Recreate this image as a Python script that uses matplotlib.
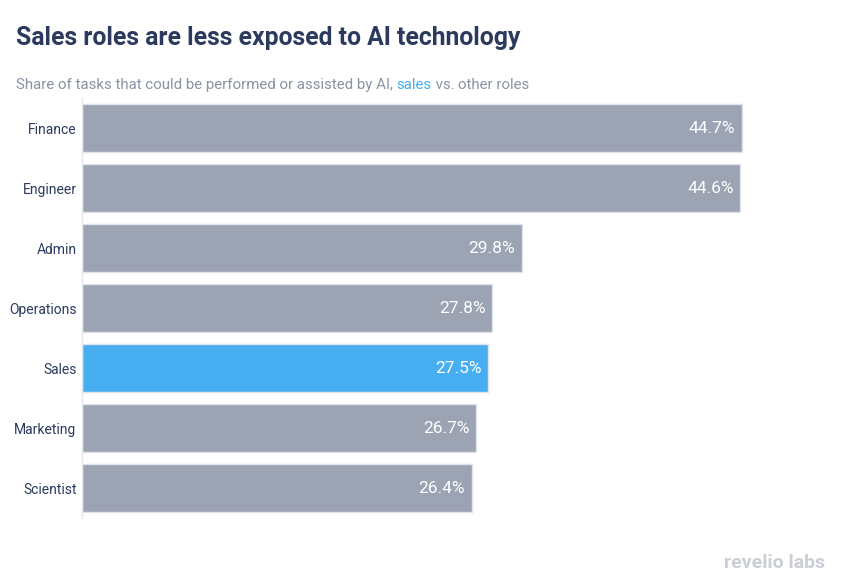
import matplotlib
matplotlib.use("Agg")
import matplotlib.pyplot as plt

# data, top to bottom
roles = ["Finance", "Engineer", "Admin", "Operations", "Sales", "Marketing", "Scientist"]
share = [44.7, 44.6, 29.8, 27.8, 27.5, 26.7, 26.4]
highlight = "Sales"

navy = "#2b3a5e"
gray_bar = "#9ca3b3"
blue = "#48aef2"
sub_gray = "#8a93a3"

plt.rcParams["font.family"] = ["Roboto", "DejaVu Sans"]

fig = plt.figure(figsize=(8.56, 5.87), dpi=100)
W, H = 856, 587
ax = fig.add_axes([82 / W, 1 - 518 / H, (820 - 82) / W, 420 / H])

ypos = list(range(len(roles)))
colors = [blue if r == highlight else gray_bar for r in roles]
ax.barh(ypos, share, height=0.8, color=colors, edgecolor="#dfe4ec", linewidth=1)

for y, v in zip(ypos, share):
    ax.text(v - 0.45, y, f"{v}%", ha="right", va="center",
            color="white", fontsize=12.5)

ax.set_xlim(0, 50)
ax.set_ylim(len(roles) - 0.5, -0.5)
ax.set_yticks(ypos)
ax.set_yticklabels(roles, fontsize=10, color=navy)
ax.tick_params(axis="y", length=0, pad=4)
ax.set_xticks([])
for s in ["top", "right", "bottom"]:
    ax.spines[s].set_visible(False)
ax.spines["left"].set_color("#e3e6eb")
ax.spines["left"].set_linewidth(1)

# title and subtitle
fig.text(16 / W, 1 - 38 / H, "Sales roles are less exposed to AI technology",
         fontsize=17.8, fontweight="bold", color=navy, va="center")

parts = [("Share of tasks that could be performed or assisted by AI, ", sub_gray),
         ("sales", blue), (" vs. ", sub_gray), ("other roles", sub_gray)]
fig.canvas.draw()
renderer = fig.canvas.get_renderer()
x = 16
for txt, c in parts:
    t = fig.text(x / W, 1 - 85 / H, txt, fontsize=10.8, color=c, va="center")
    bb = t.get_window_extent(renderer=renderer)
    x += bb.width

# logo
fig.text(825 / W, 1 - 563 / H, "revelio labs", fontsize=14, fontweight="bold",
         color="#cbcfd5", ha="right", va="center")

fig.savefig("out.png", dpi=100)
